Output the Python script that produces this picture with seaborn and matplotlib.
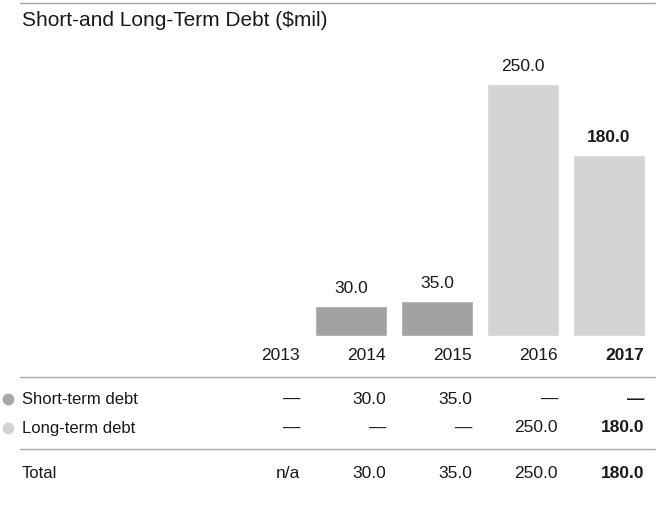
"""Short- and long-term debt bar chart with a small table underneath."""
import numpy as np
import pandas as pd
import matplotlib
matplotlib.use("Agg")
import matplotlib.pyplot as plt
from matplotlib.lines import Line2D
import seaborn as sns

YEARS      = ["2013", "2014", "2015", "2016", "2017"]
SHORT_TERM = [np.nan, 30.0, 35.0, np.nan, np.nan]
LONG_TERM  = [np.nan, np.nan, np.nan, 250.0, 180.0]
TOTAL      = [np.nan, 30.0, 35.0, 250.0, 180.0]
SERIES     = ["Short-term debt", "Long-term debt"]
DARK, LIGHT = "#a2a2a2", "#d4d4d4"
TXT, RULE = "#1a1a1a", "#a8a8a8"
FS_NUM, FS_LBL = 12.5, 12

W, H = 660, 516
sns.set_theme(style="white")
plt.rcParams["font.family"] = ["Liberation Sans", "DejaVu Sans"]

df = pd.concat([
    pd.DataFrame({"Year": YEARS, "Debt": SHORT_TERM, "Type": SERIES[0]}),
    pd.DataFrame({"Year": YEARS, "Debt": LONG_TERM, "Type": SERIES[1]}),
]).dropna()

fig = plt.figure(figsize=(W / 100, H / 100), dpi=100)

def fx(px): return px / W
def fy(py): return 1 - py / H

# bar axes: category centres at 265 + 86*i px, baseline at y=336, 250 -> y=84
ax = fig.add_axes([fx(222), fy(336), fx(430), (336 - 84) / H])
sns.barplot(data=df, x="Year", y="Debt", hue="Type", order=YEARS, dodge=False,
            palette={SERIES[0]: DARK, SERIES[1]: LIGHT}, width=72 / 86,
            legend=False, ax=ax)
ax.set_xlim(-0.5, 4.5); ax.set_ylim(0, 250)
ax.axis("off")

for i, v in enumerate(TOTAL):
    if np.isnan(v):
        continue
    bold = YEARS[i] == "2017"
    ax.annotate(f"{v:.1f}", (i, v), xytext=(0, 12.5), textcoords="offset points",
                ha="center", va="center", fontsize=FS_NUM, color=TXT,
                fontweight="bold" if bold else "normal")

# rules
for y in (3, 377, 449):
    fig.add_artist(Line2D([fx(20), fx(655)], [fy(y), fy(y)], color=RULE, lw=1))

fig.text(fx(22), fy(20), "Short-and Long-Term Debt ($mil)", fontsize=15,
         color=TXT, ha="left", va="center")

col_right = [301 + 86 * i for i in range(len(YEARS))]
for i, yr in enumerate(YEARS):
    fig.text(fx(col_right[i] - 1), fy(356), yr, fontsize=FS_NUM, color=TXT, ha="right",
             va="center", fontweight="bold" if yr == "2017" else "normal")

def fmt(v):
    return "—" if np.isnan(v) else f"{v:.1f}"

rows = [(SERIES[0], SHORT_TERM, "#a8a8a8", 399),
        (SERIES[1], LONG_TERM, "#d2d2d2", 428)]
for name, vals, col, y in rows:
    fig.add_artist(Line2D([fx(8)], [fy(y)], marker="o", markersize=7.5,
                          color=col, linestyle="none"))
    fig.text(fx(22), fy(y), name, fontsize=FS_LBL, color=TXT, ha="left", va="center")
    for i, v in enumerate(vals):
        fig.text(fx(col_right[i] - 1), fy(y), fmt(v), fontsize=FS_NUM, color=TXT,
                 ha="right", va="center",
                 fontweight="bold" if YEARS[i] == "2017" else "normal")

fig.text(fx(22), fy(474), "Total", fontsize=FS_LBL, color=TXT, ha="left", va="center")
for i, v in enumerate(TOTAL):
    s = "n/a" if np.isnan(v) else f"{v:.1f}"
    fig.text(fx(col_right[i] - 1), fy(474), s, fontsize=FS_NUM, color=TXT,
             ha="right", va="center",
             fontweight="bold" if YEARS[i] == "2017" else "normal")

fig.savefig("out.png", dpi=100)
